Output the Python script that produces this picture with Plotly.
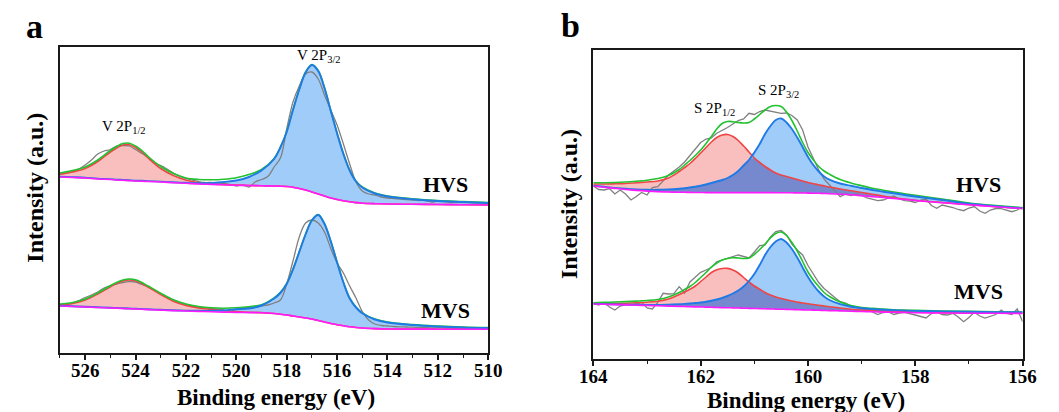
import numpy as np
import plotly.graph_objects as go

# ---------------- Panel a : V 2p ----------------
A_E = [527, 526.5, 526, 525.5, 525, 524.75, 524.5, 524.25, 524, 523.75, 523.5,
       523, 522.5, 522, 521.5, 521, 520.5, 520, 519.5, 519, 518.5,
       518.25, 518, 517.75, 517.5, 517.25, 517, 516.75, 516.5, 516.25, 516,
       515.75, 515.5, 515.25, 515, 514.5, 514, 513, 512, 511, 510]

A_HVS_bg = [176, 175.5, 175, 174, 173.5, 173, 172.7, 172.4, 172, 171.8, 171.5,
            171, 170.3, 169.7, 169, 168.6, 168.2, 167.8, 167.5, 167.2, 167,
            166.8, 166.5, 165.8, 164.5, 163, 161, 159, 157, 155, 153.5, 152.2, 151.2, 150.4, 149.8,
            149.3, 149, 148.7, 148.5, 148.2, 148]
A_HVS_p12 = [178.7, 181, 184.5, 191.5, 201, 205, 208, 208.3, 205.5, 201, 195,
             184.5, 177.5, 173, 170.3, 169, 168.4, 167.9, 167.5, 167.2, 167,
             166.8, 166.5, 165.8, 164.5, 163, 161, 159, 157, 155, 153.5, 152.2, 151.2, 150.4, 149.8,
             149.3, 149, 148.7, 148.5, 148.2, 148]
A_HVS_p32 = [176.4, 175.9, 175.4, 174.4, 173.9, 173.4, 173.1, 172.8, 172.4, 172.2, 171.9,
             171.4, 170.7, 170.2, 169.8, 169.8, 171, 172.5, 176, 182.5, 194,
             205.5, 221, 243, 263.5, 280.5, 288, 282, 265, 242, 219.5, 199, 182.5, 171.5, 165.5,
             159.5, 156.5, 153.8, 152, 151, 150]
A_HVS_env = [180, 182.5, 186, 193, 202.5, 206.5, 209.5, 209.8, 207, 202.5, 196.5,
             186.5, 179.5, 175, 173.5, 173.2, 173.8, 175.3, 178.5, 183.5, 194.5,
             206, 221.5, 243.5, 264, 281, 288.5, 282.5, 265.5, 242.5, 220, 199.5, 183, 172, 166,
             160, 157, 154.2, 152.4, 151.4, 150.4]

A_MVS_bg = [47, 46.5, 46, 45.5, 45, 44.8, 44.5, 44.2, 44, 43.7, 43.4,
            42.9, 42.4, 42, 41.6, 41.2, 40.9, 40.6, 40.4, 40.2, 39.5,
            38.8, 38, 37, 36, 35, 34, 32.5, 31, 29.5, 28.3, 27.2, 26.2, 25.5, 25,
            24.4, 24, 23.9, 23.8, 23.7, 23.7]
A_MVS_p12 = [48, 49.5, 53, 59, 66.3, 69.5, 72, 73, 72.3, 69.5, 66,
             58.5, 51.8, 47.5, 45, 43.6, 42.2, 41.4, 40.8, 40.4, 39.5,
             38.8, 38, 37, 36, 35, 34, 32.5, 31, 29.5, 28.3, 27.2, 26.2, 25.5, 25,
             24.4, 24, 23.9, 23.8, 23.7, 23.7]
A_MVS_p32 = [47.3, 46.8, 46.3, 45.8, 45.3, 45.1, 44.8, 44.5, 44.3, 44, 43.7,
             43.2, 42.7, 42.4, 42.2, 42.2, 42.6, 43.8, 44.5, 47.5, 54.5,
             60, 69, 83.5, 101, 118.5, 132.5, 138, 129, 111.5, 90.5, 70.5, 54.5, 45.5, 39.8,
             33.5, 30.5, 28, 26.5, 25.5, 25]
A_MVS_env = [49, 50.5, 54, 60, 67.3, 70.5, 73, 74, 73.3, 70.5, 67,
             59.8, 53.2, 49, 46.5, 45.2, 44.8, 45.2, 46.3, 48.3, 55.2,
             60.6, 69.5, 84, 101.4, 119, 133, 138.4, 129.4, 112, 91, 71, 55, 46, 40.2,
             34, 31, 28.4, 26.9, 25.9, 25.4]

A_E_RAW = np.linspace(527, 510, 69)
A_HVS_raw = [179.5, 180, 181.5, 184, 188, 193, 199, 202, 203.5, 207,
             207.5, 207, 203.5, 199.5, 196, 190, 187.5, 184, 180, 177,
             174.5, 173, 171.5, 170.5, 170.5, 170, 169.5, 168.5, 167, 168,
             166, 171, 173.5, 176.5, 186, 195, 224, 251, 267, 279,
             281, 274, 258, 243, 228, 209, 189, 171, 162, 159,
             158, 156, 155, 154.5, 154, 153.5, 153, 152.5, 152.5, 151,
             152, 151.5, 150.5, 151, 150.5, 150.5, 150, 150, 150]
A_MVS_raw = [48, 48.5, 50, 52.5, 55.5, 58, 61, 65, 67.5, 69,
             70.5, 71.3, 71, 68.5, 66, 63, 59, 56, 53, 50.5,
             48.5, 47, 46, 45.3, 44.5, 44, 43, 41, 44, 45,
             45.5, 46, 47, 48, 50, 53, 69, 92, 116, 130,
             133, 130, 121, 104.5, 90, 80, 67, 55, 41.5, 33,
             29, 27.5, 27, 26.5, 26.2, 26, 25.8, 25.5, 25.5, 25,
             25.3, 25, 24.8, 24.6, 24.5, 24.5, 24.4, 24.3, 24.3]

# ---------------- Panel b : S 2p ----------------
B_E = [164.0, 163.8, 163.6, 163.4, 163.2, 163.0, 162.8, 162.6,
       162.4, 162.3, 162.2, 162.1, 162.0, 161.9, 161.8, 161.7, 161.6, 161.5,
       161.4, 161.3, 161.2, 161.1, 161.0, 160.9, 160.8, 160.7, 160.6, 160.5,
       160.4, 160.3, 160.2, 160.1, 160.0, 159.9, 159.8, 159.7, 159.6,
       159.4, 159.2, 159.0, 158.8, 158.6, 158.4, 158.2, 158.0,
       157.5, 157.0, 156.5, 156.0]

B_HVS_bg = [173, 171.8, 170.6, 169.5, 168.6, 167.9, 167.4, 167,
            166.8, 166.7, 166.6, 166.5, 166.5, 166.4, 166.4, 166.4, 166.4, 166.4,
            166.4, 166.4, 166.4, 166.4, 166.4, 166.4, 166.4, 166.4, 166.3, 166.3,
            166.2, 166.2, 166.1, 166.0, 165.9, 165.8, 165.7, 165.5, 165.3,
            164.8, 164.2, 163.3, 162.4, 161.5, 160.5, 159.5, 158.5,
            156.3, 154.3, 152.3, 150.5]
B_HVS_p12 = [175, 175, 175.2, 175.5, 176.3, 177, 178, 181,
             187.5, 191.5, 195.5, 200.5, 206, 211.5, 217, 221.5, 224, 224.5,
             222.5, 218.5, 213, 207, 201, 196.5, 192.5, 189, 186, 184,
             182.5, 181, 179.5, 178, 176.5, 175.3, 174.2, 173.1, 172,
             170, 168.3, 166.5, 164.8, 163, 161.3, 160, 158.8,
             156.5, 154.4, 152.4, 150.6]
B_HVS_p32 = [173.3, 172.2, 171.1, 170.2, 169.5, 169.2, 169.2, 169.6,
             170.3, 170.8, 171.5, 172.3, 173.3, 174.5, 176, 177.5, 179, 181,
             184, 188, 193.5, 199, 206.5, 215, 225, 233, 239, 240.5,
             236.5, 230, 221.5, 212, 202, 194, 187.5, 182.5, 179.3,
             175.5, 173.2, 171, 169, 167.3, 165.7, 164, 162.5,
             159, 155.2, 152.8, 150.7]
B_HVS_env = [176.3, 176.3, 176.5, 177, 177.8, 178.8, 180.5, 183.5,
             189.5, 194, 198.5, 203.5, 209, 215.5, 222.5, 230, 235.5, 237.5,
             237.3, 236.5, 236, 236.5, 240, 244.5, 249, 252.5, 253.5, 252.5,
             247, 238.5, 228, 216.5, 206.5, 199, 192.5, 188, 184.8,
             179.5, 176, 173.3, 170.8, 168.8, 167, 165.3, 163.7,
             160, 156, 153.5, 151.3]

B_MVS_bg = [55, 54.7, 54.4, 54.1, 53.8, 53.5, 53.2, 52.9,
            52.6, 52.45, 52.3, 52.15, 52, 51.85, 51.7, 51.55, 51.4, 51.25,
            51.1, 50.95, 50.8, 50.65, 50.5, 50.35, 50.2, 50.05, 49.9, 49.75,
            49.6, 49.45, 49.3, 49.15, 49, 48.85, 48.7, 48.55, 48.4,
            48.1, 47.8, 47.5, 47.2, 46.9, 46.7, 46.5, 46.3,
            46, 45.8, 45.7, 45.6]
B_MVS_p12 = [55.5, 55.5, 55.6, 55.8, 56.2, 56.8, 57.8, 60,
             64.5, 67, 69.7, 73, 77.5, 82, 86.5, 89.2, 90.5, 90.6,
             89, 86, 81.5, 77, 73, 69.8, 66.5, 64, 62, 60.5,
             59.3, 58, 57, 56, 55.2, 54.5, 53.8, 53, 52.3,
             51, 49.8, 49, 48.4, 47.9, 47.5, 47.1, 46.8,
             46.3, 46, 45.8, 45.7]
B_MVS_p32 = [55.2, 54.9, 54.6, 54.4, 54.2, 54.1, 54.1, 54.4,
             54.8, 55.1, 55.5, 56, 56.5, 57.3, 58.3, 59.5, 61, 63,
             65.5, 68.5, 72.5, 78, 85, 94, 104, 112, 117.5, 120,
             116.5, 110, 101.5, 91.5, 82, 74, 67.5, 62.5, 59,
             54.8, 52.2, 50.7, 49.9, 49.3, 48.8, 48.4, 48.1,
             47.6, 47.2, 46.9, 46.7]
B_MVS_env = [56.3, 56.6, 57, 57.4, 57.9, 58.5, 59.5, 62,
             66.5, 69.5, 72.5, 76.5, 81.5, 86.5, 92, 96, 99, 100.5,
             101.3, 101, 100.5, 101, 104.5, 109.5, 115, 121, 125.5, 127,
             123.5, 116.5, 108, 97.5, 87, 79, 72.5, 66.5, 62.5,
             57, 53.5, 51.5, 50.6, 49.9, 49.3, 48.9, 48.6,
             48, 47.6, 47.3, 47]

B_E_RAW = np.linspace(164, 156, 81)
B_HVS_raw = [173, 169.5, 169, 170.5, 165, 169, 165, 159, 162.5, 166.5,
             164, 171.5, 172.3, 178, 184, 188, 192, 197, 203.5, 211,
             216.5, 220, 221, 225.7, 228.5, 231.5, 235, 238.5, 240, 245.7,
             244.5, 247.5, 249, 248, 247, 245.7, 246, 243.5, 239, 229,
             212, 200, 189, 180, 174, 168, 162.3, 165, 163.5, 165,
             163.5, 161, 159.5, 158.3, 159, 161, 163, 160, 158.3, 158,
             156.5, 159, 160, 153.5, 150.7, 154, 153, 151.5, 149.5, 148.3,
             151, 152.5, 148, 145.7, 149, 150.5, 150.3, 149, 147.3, 149,
             152]
B_MVS_raw = [55.7, 54, 56.5, 52, 49, 53, 54.5, 54, 55, 56.7,
             51, 50, 56.7, 65.7, 65, 65.3, 72.3, 66, 77, 81.5,
             86.7, 89, 91.5, 97.3, 99, 100.5, 102.5, 104, 102.5, 101,
             107, 113.5, 114, 122, 127.5, 128.5, 124, 115, 109, 104,
             93.5, 85, 76.5, 70.5, 65.5, 61.5, 57.3, 56, 53, 51.5,
             50.5, 49.5, 47.3, 44.5, 46.5, 47, 44.5, 46, 46.7, 45,
             44, 42.5, 41, 45.5, 47, 44.5, 44, 45.7, 42, 37.3,
             41.5, 46.7, 43, 41, 43, 44.5, 49, 45.5, 44.5, 50,
             37.3]

# ---------------- styling ----------------
FONT = "Liberation Serif"
C_RAW = "#808080"
C_ENV = "#22c230"
C_RED = "#f04545"
C_BLUE = "#1f7ae6"
C_BG = "#ff1aff"
F_RED = "rgb(249,190,190)"
F_BLUE = "rgb(160,204,250)"
F_OVL = "rgb(118,136,206)"

fig = go.Figure()


def add_sample(xa, ya, E, bg, p12, p32, env, Er, raw, overlap=False, raw_shape="linear"):
    common = dict(xaxis=xa, yaxis=ya, showlegend=False, hoverinfo="skip", mode="lines")
    hidden = dict(width=0, shape="spline", smoothing=1.0)
    fig.add_trace(go.Scatter(x=E, y=bg, line=hidden, **common))
    fig.add_trace(go.Scatter(x=E, y=p12, line=hidden, fill="tonexty", fillcolor=F_RED, **common))
    fig.add_trace(go.Scatter(x=E, y=bg, line=hidden, **common))
    fig.add_trace(go.Scatter(x=E, y=p32, line=hidden, fill="tonexty", fillcolor=F_BLUE, **common))
    if overlap:
        ovl = np.minimum(np.array(p12), np.array(p32))
        fig.add_trace(go.Scatter(x=E, y=bg, line=hidden, **common))
        fig.add_trace(go.Scatter(x=E, y=ovl, line=hidden, fill="tonexty", fillcolor=F_OVL, **common))
    fig.add_trace(go.Scatter(x=Er, y=raw, line=dict(color=C_RAW, width=1.3, shape=raw_shape), **common))
    fig.add_trace(go.Scatter(x=E, y=p12, line=dict(color=C_RED, width=1.6, shape="spline"), **common))
    fig.add_trace(go.Scatter(x=E, y=env, line=dict(color=C_ENV, width=1.6, shape="spline"), **common))
    fig.add_trace(go.Scatter(x=E, y=p32, line=dict(color=C_BLUE, width=1.9, shape="spline"), **common))
    fig.add_trace(go.Scatter(x=E, y=bg, line=dict(color=C_BG, width=1.6, shape="spline"), **common))


add_sample("x", "y", A_E, A_HVS_bg, A_HVS_p12, A_HVS_p32, A_HVS_env, A_E_RAW, A_HVS_raw, raw_shape="spline")
add_sample("x", "y", A_E, A_MVS_bg, A_MVS_p12, A_MVS_p32, A_MVS_env, A_E_RAW, A_MVS_raw, raw_shape="spline")
add_sample("x2", "y2", B_E, B_HVS_bg, B_HVS_p12, B_HVS_p32, B_HVS_env, B_E_RAW, B_HVS_raw, overlap=True)
add_sample("x2", "y2", B_E, B_MVS_bg, B_MVS_p12, B_MVS_p32, B_MVS_env, B_E_RAW, B_MVS_raw, overlap=True)

# the page body adds an 8 px offset; size the figure so it fills the window exactly
OFF = 8
W, H = 1059 - OFF, 412 - OFF


def fx(px):
    return (px - OFF) / W


def fy(py):
    return 1 - (py - OFF) / H


xcommon = dict(showline=True, mirror=True, linecolor="#1a1a1a", linewidth=1.6,
               showgrid=False, zeroline=False, ticks="outside", ticklen=5, tickwidth=1.5,
               tickcolor="#1a1a1a", dtick=2, ticklabelstandoff=-6,
               tickfont=dict(family=FONT, size=19, color="black", weight="bold"),
               minor=dict(dtick=1, ticks="outside", ticklen=3, tickwidth=1.3, tickcolor="#1a1a1a"))
ycommon = dict(showline=True, mirror=True, linecolor="#1a1a1a", linewidth=1.6,
               showgrid=False, zeroline=False, ticks="", showticklabels=False)

fig.update_layout(
    width=W, height=H, margin=dict(l=0, r=0, t=0, b=0),
    paper_bgcolor="white", plot_bgcolor="white", showlegend=False,
    xaxis=dict(domain=[fx(47), fx(487)], range=[527, 510], anchor="y", tick0=510, **xcommon),
    yaxis=dict(domain=[fy(353), fy(47)], range=[0, 306], anchor="x", **ycommon),
    xaxis2=dict(domain=[fx(595), fx(1036)], range=[164, 156], anchor="y2", tick0=156, **xcommon),
    yaxis2=dict(domain=[fy(359), fy(50)], range=[0, 309], anchor="x2", **ycommon),
)


def ann(text, x, y, size, xref="paper", yref="paper", angle=0, bold=True):
    fig.add_annotation(text=text, x=x, y=y, xref=xref, yref=yref, showarrow=False,
                       textangle=angle, xanchor="center", yanchor="middle",
                       font=dict(family=FONT, size=size, color="black",
                                 weight="bold" if bold else "normal"))


# panel letters
ann("a", fx(21), fy(26), 34)
ann("b", fx(572), fy(25), 34)
# axis titles
ann("Binding energy (eV)", fx(269), fy(397), 23)
ann("Binding energy (eV)", fx(813), fy(400), 23)
ann("Intensity (a.u.)", fx(21), fy(188), 24, angle=-90)
ann("Intensity (a.u.)", fx(570), fy(204), 24, angle=-90)
# peak labels
ann("V 2P<sub>1/2</sub>", 524.45, 226, 15, "x", "y", bold=False)
ann("V 2P<sub>3/2</sub>", 516.7, 297, 15, "x", "y", bold=False)
ann("S 2P<sub>1/2</sub>", 161.75, 250, 15, "x2", "y2", bold=False)
ann("S 2P<sub>3/2</sub>", 160.55, 268, 15, "x2", "y2", bold=False)
# sample labels
ann("HVS", 511.7, 169, 22, "x", "y")
ann("MVS", 511.7, 43, 22, "x", "y")
ann("HVS", 156.83, 175, 22, "x2", "y2")
ann("MVS", 156.83, 68, 22, "x2", "y2")

fig.write_html("out.html")
